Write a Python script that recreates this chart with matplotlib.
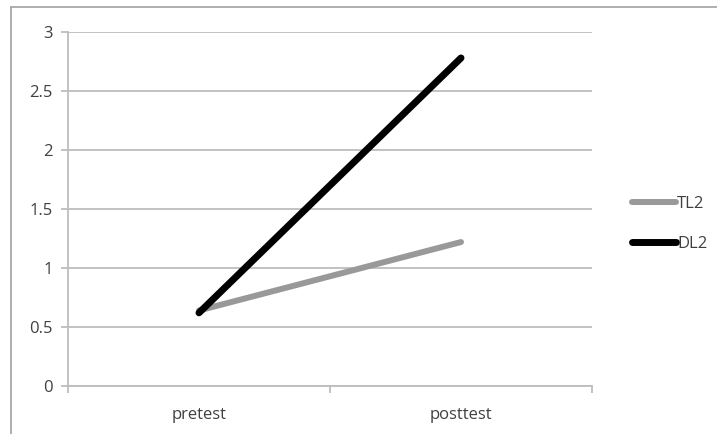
import matplotlib
matplotlib.use("Agg")
import matplotlib.pyplot as plt
from matplotlib.lines import Line2D

# data
categories = ["pretest", "posttest"]
tl2 = [0.64, 1.22]
dl2 = [0.62, 2.78]
y_ticks = [0, 0.5, 1, 1.5, 2, 2.5, 3]
y_labels = ["0", "0.5", "1", "1.5", "2", "2.5", "3"]

plt.rcParams['font.family'] = ['Open Sans', 'DejaVu Sans']

fig = plt.figure(figsize=(7.17, 4.34), dpi=100)
ax = fig.add_axes([68 / 717, 48 / 434, (592 - 68) / 717, (386 - 32) / 434])

x = list(range(len(categories)))
ax.plot(x, tl2, color="#999999", lw=4.3, solid_capstyle="round", label="TL2", zorder=3)
ax.plot(x, dl2, color="black", lw=5.0, solid_capstyle="round", label="DL2", zorder=4)

ax.set_xlim(-0.5, len(categories) - 0.5)
ax.set_ylim(0, 3)
ax.set_yticks(y_ticks)
ax.set_yticklabels(y_labels)
ax.set_xticks(x)
ax.set_xticklabels(categories)
ax.set_xticks([-0.5, 0.5, 1.5], minor=True)

grid_col = "#bdbdbd"
ax.grid(axis="y", color=grid_col, lw=1.3)
ax.set_axisbelow(True)
for s in ["top", "right"]:
    ax.spines[s].set_visible(False)
ax.spines["left"].set_color(grid_col)
ax.spines["bottom"].set_color(grid_col)
ax.spines["left"].set_linewidth(1.3)
ax.spines["bottom"].set_linewidth(1.3)

ax.tick_params(axis="y", length=5, color=grid_col, width=1.3, labelsize=12,
               labelcolor="#404040", pad=6)
ax.tick_params(axis="x", which="major", length=0, labelsize=12,
               labelcolor="#404040", pad=15)
ax.tick_params(axis="x", which="minor", length=5, color=grid_col, width=1.3)

leg = ax.legend(loc="center left", bbox_to_anchor=(624 / 717, (434 - 224) / 434),
                bbox_transform=fig.transFigure, frameon=False, fontsize=12,
                handlelength=2.6, handletextpad=0.1, labelspacing=1.4,
                borderpad=0, labelcolor="#404040")

# outer chart border
fig.add_artist(Line2D([11 / 717, 11 / 717], [0, 1 - 7 / 434], color="#a8a8a8", lw=1.3,
                      transform=fig.transFigure))
fig.add_artist(Line2D([11 / 717, 1], [1 - 7 / 434, 1 - 7 / 434], color="#a8a8a8", lw=1.3,
                      transform=fig.transFigure))

fig.savefig("out.png", dpi=100)
